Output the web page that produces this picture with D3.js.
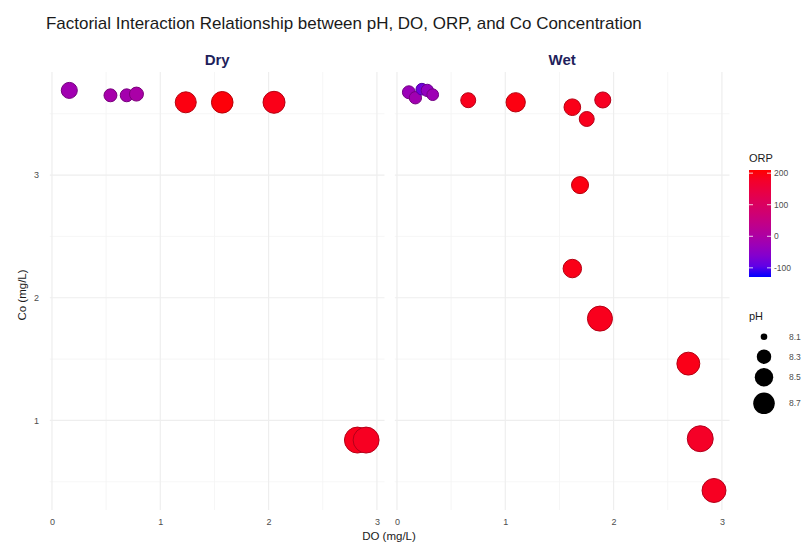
<!DOCTYPE html>
<html><head><meta charset="utf-8">
<script src="https://cdn.jsdelivr.net/npm/d3@7"></script>
<style>body{margin:0;background:#fff}svg{font-family:"Liberation Sans",Arial,sans-serif}</style>
</head><body><svg id="c" width="808" height="548"></svg>
<script>
// ---- data ----
const panels = ["Dry", "Wet"];
const dryDO  = [0.16, 0.54, 0.69, 0.78, 1.235, 1.572, 2.05, 2.82, 2.90];
const dryCo  = [3.69, 3.65, 3.65, 3.66, 3.593, 3.593, 3.593, 0.84, 0.84];
const dryORP = [-20, -10, -15, -5, 200, 205, 195, 190, 185];
const dryPH  = [8.37, 8.24, 8.24, 8.28, 8.66, 8.70, 8.73, 9.05, 9.05];
const wetDO  = [0.11, 0.17, 0.23, 0.28, 0.33, 0.658, 1.096, 1.619, 1.752, 1.90, 1.69, 1.619, 1.874, 2.69, 2.80, 2.927];
const wetCo  = [3.675, 3.63, 3.70, 3.69, 3.655, 3.61, 3.593, 3.553, 3.457, 3.612, 2.918, 2.238, 1.83, 1.463, 0.851, 0.429];
const wetORP = [-30, -20, -80, -40, -25, 190, 200, 195, 190, 185, 200, 195, 190, 195, 180, 185];
const wetPH  = [8.24, 8.22, 8.20, 8.22, 8.20, 8.32, 8.55, 8.40, 8.32, 8.37, 8.42, 8.50, 8.97, 8.80, 9.05, 8.88];
const xTicks = [0, 1, 2, 3];
const yTicks = [1, 2, 3];
const orpTicks = [200, 100, 0, -100];
const phTicks = [8.1, 8.3, 8.5, 8.7];
const titleText = "Factorial Interaction Relationship between pH, DO, ORP, and Co Concentration";

const series = {
  Dry: dryDO.map((d, i) => ({do: d, co: dryCo[i], orp: dryORP[i], ph: dryPH[i]})),
  Wet: wetDO.map((d, i) => ({do: d, co: wetCo[i], orp: wetORP[i], ph: wetPH[i]}))
};

const svg = d3.select("#c");
const xRanges = {Dry: [49.8, 384.5], Wet: [394.8, 729.5]};
const y = d3.scaleLinear().domain([0.27, 3.84]).range([510, 72]);
const orpDomain = [-129, 210];
const color = d3.scaleSequential(d3.interpolateLab("blue", "red")).domain(orpDomain);
const phMin = 8.09, phRange = 1.0;
const sz = d3.scaleSqrt().domain([0, phRange]).range([0, 5]).clamp(true);
const rad = ph => 2.2 * (1 + sz(Math.max(0, ph - phMin)));

// title
const t = svg.append("text").attr("x", 46).attr("y", 29).attr("font-size", 14)
  .attr("fill", "#1a1a1a").text(titleText);
const tw = t.node().getComputedTextLength();
t.attr("font-size", 14 * 596 / tw);

panels.forEach(p => {
  const x = d3.scaleLinear().domain([-0.02, 3.07]).range(xRanges[p]);
  const g = svg.append("g");
  const [x0, x1] = xRanges[p];
  // minor grid
  [0.5, 1.5, 2.5].forEach(v => g.append("line").attr("x1", x(v)).attr("x2", x(v)).attr("y1", 72).attr("y2", 510)
    .attr("stroke", "#f4f4f4").attr("stroke-width", 0.8));
  [0.5, 1.5, 2.5, 3.5].forEach(v => g.append("line").attr("x1", x0).attr("x2", x1).attr("y1", y(v)).attr("y2", y(v))
    .attr("stroke", "#f4f4f4").attr("stroke-width", 0.8));
  // major grid
  xTicks.forEach(v => g.append("line").attr("x1", x(v)).attr("x2", x(v)).attr("y1", 72).attr("y2", 510)
    .attr("stroke", "#eeeeee").attr("stroke-width", 1.2));
  yTicks.forEach(v => g.append("line").attr("x1", x0).attr("x2", x1).attr("y1", y(v)).attr("y2", y(v))
    .attr("stroke", "#eeeeee").attr("stroke-width", 1.2));
  // x axis labels
  const ax = svg.append("g").attr("transform", "translate(0,515)")
    .call(d3.axisBottom(x).tickValues(xTicks).tickSize(0).tickPadding(4).tickFormat(d3.format("d")));
  ax.select(".domain").remove();
  ax.selectAll("text").attr("font-size", 9).attr("fill", "#4d4d4d").attr("font-family", "Liberation Sans, Arial, sans-serif");
  // strip
  svg.append("text").attr("x", (x0 + x1) / 2).attr("y", 65).attr("text-anchor", "middle")
    .attr("font-size", 15).attr("font-weight", "bold").attr("fill", "#1f1f5c").text(p);
  // points
  g.selectAll("circle.pt").data(series[p]).join("circle").attr("class", "pt")
    .attr("cx", d => x(d.do)).attr("cy", d => y(d.co)).attr("r", d => rad(d.ph))
    .attr("fill", d => color(d.orp))
    .attr("stroke", d => d3.color(color(d.orp)).darker(0.9)).attr("stroke-width", 1);
});

// y axis labels (left panel only)
const ay = svg.append("g").attr("transform", "translate(42,0)")
  .call(d3.axisLeft(y).tickValues(yTicks).tickSize(0).tickPadding(3).tickFormat(d3.format("d")));
ay.select(".domain").remove();
ay.selectAll("text").attr("font-size", 9).attr("fill", "#4d4d4d").attr("font-family", "Liberation Sans, Arial, sans-serif");

// axis titles
svg.append("text").attr("x", 389).attr("y", 540).attr("text-anchor", "middle").attr("font-size", 11.5)
  .attr("fill", "#1a1a1a").text("DO (mg/L)");
svg.append("text").attr("transform", "translate(26,295) rotate(-90)").attr("text-anchor", "middle")
  .attr("font-size", 11.5).attr("fill", "#1a1a1a").text("Co (mg/L)");

// ORP legend
svg.append("text").attr("x", 749).attr("y", 162).attr("font-size", 11).attr("fill", "#1a1a1a").text("ORP");
const cb = d3.scaleLinear().domain(orpDomain).range([277, 170]);
const defs = svg.append("defs");
const grad = defs.append("linearGradient").attr("id", "orpg").attr("x1", 0).attr("x2", 0).attr("y1", 1).attr("y2", 0);
d3.range(0, 1.0001, 0.1).forEach(s => grad.append("stop").attr("offset", s)
  .attr("stop-color", color(orpDomain[0] + s * (orpDomain[1] - orpDomain[0]))));
svg.append("rect").attr("x", 749).attr("y", 170).attr("width", 22).attr("height", 107).attr("fill", "url(#orpg)");
orpTicks.forEach(v => {
  svg.append("line").attr("x1", 749).attr("x2", 753).attr("y1", cb(v)).attr("y2", cb(v)).attr("stroke", "#fff").attr("stroke-width", 0.8);
  svg.append("line").attr("x1", 767).attr("x2", 771).attr("y1", cb(v)).attr("y2", cb(v)).attr("stroke", "#fff").attr("stroke-width", 0.8);
  svg.append("text").attr("x", 774).attr("y", cb(v) + 3).attr("font-size", 8.5).attr("fill", "#4d4d4d").text(v);
});

// pH legend
svg.append("text").attr("x", 749).attr("y", 320).attr("font-size", 11).attr("fill", "#1a1a1a").text("pH");
const phY = [336.7, 356.7, 377.3, 403.3];
phTicks.forEach((v, i) => {
  svg.append("circle").attr("cx", 764).attr("cy", phY[i]).attr("r", rad(v)).attr("fill", "#000");
  svg.append("text").attr("x", 789).attr("y", phY[i] + 3).attr("font-size", 8.5).attr("fill", "#4d4d4d").text(v.toFixed(1));
});
</script></body></html>
